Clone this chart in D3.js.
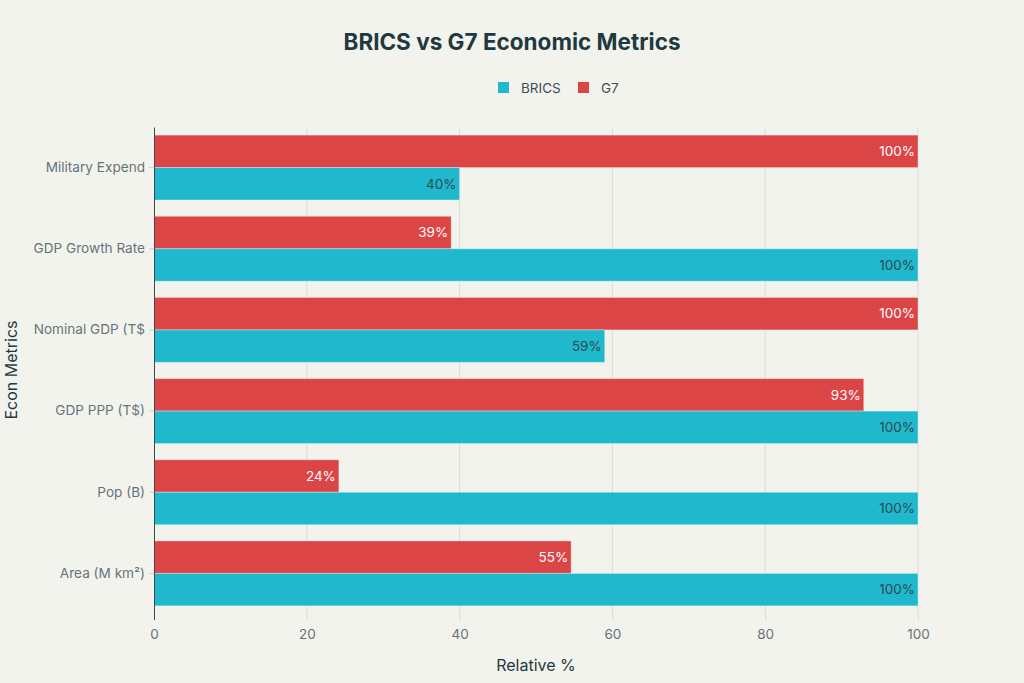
<!DOCTYPE html>
<html><head><meta charset="utf-8">
<script src="https://cdn.jsdelivr.net/npm/d3@7"></script>
<style>body{margin:0;background:#F3F3EE;}svg{display:block;font-family:Inter,"Open Sans",sans-serif;}</style>
</head><body><svg id="c" width="1024" height="683"></svg>
<script>
const categories = ["Military Expend","GDP Growth Rate","Nominal GDP (T$","GDP PPP (T$)","Pop (B)","Area (M km²)"];
const seriesNames = ["G7","BRICS"];
const g7Values = [100,38.9,100,92.9,24.2,54.6];
const bricsValues = [40,100,59,100,100,100];
const xTicks = [0,20,40,60,80,100];
const colors = {BRICS:"#1FB8CD", G7:"#DB4545"};
const labelColors = {BRICS:"#2f4a50", G7:"#ffffff"};

const svg = d3.select("#c");
const m = {l:154, r:918, t:127, b:614};
const x = d3.scaleLinear().domain([0,100]).range([m.l,m.r]);
const y = d3.scaleBand().domain(categories).range([m.t,m.b]).paddingInner(0.2).paddingOuter(0.1);
const ySub = d3.scaleBand().domain(seriesNames).range([0,y.bandwidth()]);

svg.append("rect").attr("width",1024).attr("height",683).attr("fill","#F3F3EE");

// grid
svg.append("g").selectAll("line").data(xTicks.slice(1)).join("line")
  .attr("x1",d=>x(d)).attr("x2",d=>x(d)).attr("y1",m.t).attr("y2",m.b)
  .attr("stroke","#dcdcd6").attr("stroke-width",1);

// bars
const rows = categories.map((c,i)=>({c, G7:g7Values[i], BRICS:bricsValues[i]}));
const grp = svg.append("g").selectAll("g").data(rows).join("g")
  .attr("transform",d=>`translate(0,${y(d.c)})`);
grp.selectAll("rect").data(d=>seriesNames.map(s=>({s,v:d[s]}))).join("rect")
  .attr("x",x(0)).attr("y",d=>ySub(d.s)).attr("width",d=>x(d.v)-x(0)).attr("height",ySub.bandwidth())
  .attr("fill",d=>colors[d.s]).attr("stroke","#ffffff").attr("stroke-opacity",0.35).attr("stroke-width",1);
grp.selectAll("text").data(d=>seriesNames.map(s=>({s,v:d[s]}))).join("text")
  .attr("x",d=>x(d.v)-3).attr("y",d=>ySub(d.s)+ySub.bandwidth()/2).attr("dy","0.35em")
  .attr("text-anchor","end").attr("font-size",13.5).attr("fill",d=>labelColors[d.s])
  .text(d=>Math.round(d.v)+"%");

// y axis
const ya = svg.append("g").attr("transform",`translate(${m.l},0)`)
  .call(d3.axisLeft(y).tickSize(5).tickSizeOuter(0).tickPadding(4));
ya.select(".domain").attr("stroke","#444").attr("stroke-width",1);
ya.selectAll(".tick line").attr("stroke","#d0d0ca");
ya.selectAll(".tick text").attr("font-size",13.6).attr("fill","#66737a").attr("font-family","Inter,sans-serif");

// x axis
const xa = svg.append("g").attr("transform",`translate(0,${m.b})`)
  .call(d3.axisBottom(x).tickValues(xTicks).tickSize(6).tickPadding(9));
xa.select(".domain").remove();
xa.selectAll(".tick line").attr("stroke",(d)=>d===0?"#444":"#dcdcd6");
xa.selectAll(".tick text").attr("font-size",13.5).attr("fill","#66737a").attr("font-family","Inter,sans-serif");

// titles
svg.append("text").attr("x",512).attr("y",50).attr("text-anchor","middle")
  .attr("font-size",22.5).attr("font-weight",700).attr("fill","#1e3a40").text("BRICS vs G7 Economic Metrics");
svg.append("text").attr("x",x(50)).attr("y",671).attr("text-anchor","middle")
  .attr("font-size",16).attr("fill","#1e3a40").text("Relative %");
svg.append("text").attr("transform","translate(17,370) rotate(-90)").attr("text-anchor","middle")
  .attr("font-size",16).attr("fill","#1e3a40").text("Econ Metrics");

// legend
const leg = [{n:"BRICS",x:498},{n:"G7",x:578}];
const lg = svg.append("g").selectAll("g").data(leg).join("g").attr("transform",d=>`translate(${d.x},82)`);
lg.append("rect").attr("width",11).attr("height",11).attr("fill",d=>colors[d.n]);
lg.append("text").attr("x",23).attr("y",6).attr("dy","0.35em").attr("font-size",13.5).attr("fill","#3b4f55").text(d=>d.n);
</script></body></html>
